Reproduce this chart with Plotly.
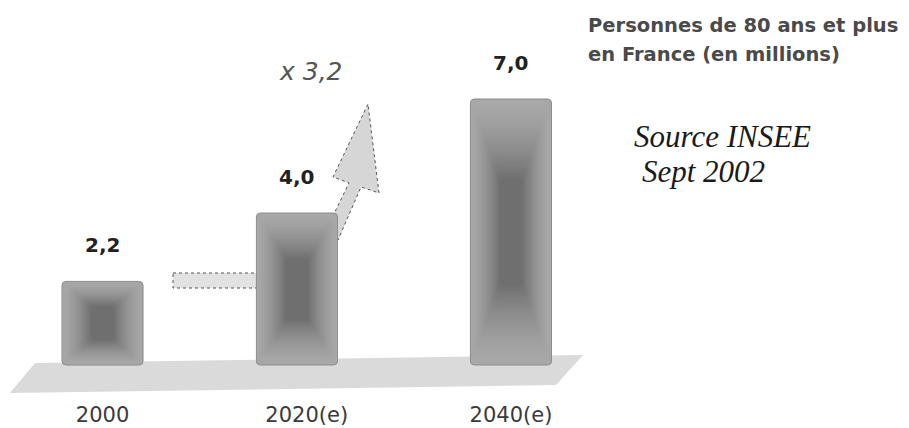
import plotly.graph_objects as go

# ---- data ----
categories = ["2000", "2020(e)", "2040(e)"]
values = [2.2, 4.0, 7.0]
value_labels = ["2,2", "4,0", "7,0"]
growth_label = "x 3,2"
title_lines = ["Personnes de 80 ans et plus", "en France (en millions)"]
source_lines = ["Source INSEE", "Sept 2002"]

# ---- geometry / style ----
W, H = 909, 428
PLOT_H = 400          # plot area height in px (bottom margin holds tick labels)
bar_w = 0.397
shift = [0.0, -0.048, 0.0]   # perspective nudge per bar (axis units)

def px(x, y):
    return x / W, 1 - y / PLOT_H

def poly(points):
    p = [px(*q) for q in points]
    return "M " + " L ".join(f"{a} {b}" for a, b in p) + " Z"

fig = go.Figure()

# layered bars to imitate the soft radial gradient of the original
N = 34
outer, inner = 168, 108
for k in range(N):
    t = k / N
    wf = 1 - 0.75 * t
    hf = 1 - 0.62 * t
    g = int(round(outer + (inner - outer) * (t ** 1.5)))
    col = f"rgb({g},{g},{g})"
    widths = [bar_w * wf] * len(values)
    bases = [v * (1 - hf) / 2 for v in values]
    heights = [v * hf for v in values]
    offsets = [-bar_w * wf / 2 + s for s in shift]
    fig.add_trace(go.Bar(
        x=categories, y=heights, base=bases, width=widths, offset=offsets,
        marker=dict(color=col,
                    line=dict(color="#8c8c8c" if k == 0 else col, width=1 if k == 0 else 0)),
        hoverinfo="skip", showlegend=False,
    ))

shapes = [
    # floor (perspective plate)
    dict(type="path", xref="paper", yref="paper", layer="below",
         path=poly([(10, 393), (35, 363), (583, 355), (556, 385)]),
         fillcolor="#dadada", line=dict(width=0)),
    # horizontal arrow shaft into 2020 bar
    dict(type="path", xref="paper", yref="paper", layer="below",
         path=poly([(173, 273), (262, 273), (262, 288), (173, 288)]),
         fillcolor="#e2e2e2", line=dict(color="#555555", width=1, dash="dot")),
    # rising arrow out of 2020 bar
    dict(type="path", xref="paper", yref="paper", layer="below",
         path=poly([(330, 222), (349, 183), (333, 177), (368, 104), (379, 193), (361, 187), (338, 240)]),
         fillcolor="#d6d6d6", line=dict(color="#555555", width=1, dash="dot")),
]

annotations = []
for i, (v, lab) in enumerate(zip(values, value_labels)):
    annotations.append(dict(x=i, y=v, xref="x", yref="y", text=f"<b>{lab}</b>", showarrow=False,
                            yanchor="middle", yshift=36, xshift=shift[i] * 204,
                            font=dict(family="DejaVu Sans", size=20, color="#222222")))
gx, gy = px(311, 72)
annotations.append(dict(x=gx, y=gy, xref="paper", yref="paper", text=f"<i>{growth_label}</i>",
                        showarrow=False, yanchor="middle",
                        font=dict(family="DejaVu Sans", size=25, color="#555555")))
for j, line in enumerate(title_lines):
    tx, ty = px(586, 25 + 30 * j)
    annotations.append(dict(x=tx, y=ty, xref="paper", yref="paper", xanchor="left", yanchor="middle",
                            text=f"<b>{line}</b>", showarrow=False,
                            font=dict(family="DejaVu Sans", size=19.5, color="#4a4a4a")))
for j, (line, lx) in enumerate(zip(source_lines, [632, 640])):
    sx, sy = px(lx, 136 + 36 * j)
    annotations.append(dict(x=sx, y=sy, xref="paper", yref="paper", xanchor="left", yanchor="middle",
                            text=f"<i>{line}</i>", showarrow=False,
                            font=dict(family="Liberation Serif", size=31, color="#1a1a1a")))

fig.update_layout(
    width=W, height=H, margin=dict(l=0, r=0, t=0, b=H - PLOT_H),
    paper_bgcolor="white", plot_bgcolor="white",
    barmode="overlay", barcornerradius=4,
    shapes=shapes, annotations=annotations,
    xaxis=dict(type="category", range=[-0.502, 3.949], showgrid=False, zeroline=False,
               showline=False, ticks="", tickfont=dict(family="DejaVu Sans", size=21, color="#3a3a3a")),
    yaxis=dict(range=[-0.921, 9.605], visible=False),
)

fig.write_html("out.html", config={"displayModeBar": False},
               post_script="document.body.style.margin='0';")
